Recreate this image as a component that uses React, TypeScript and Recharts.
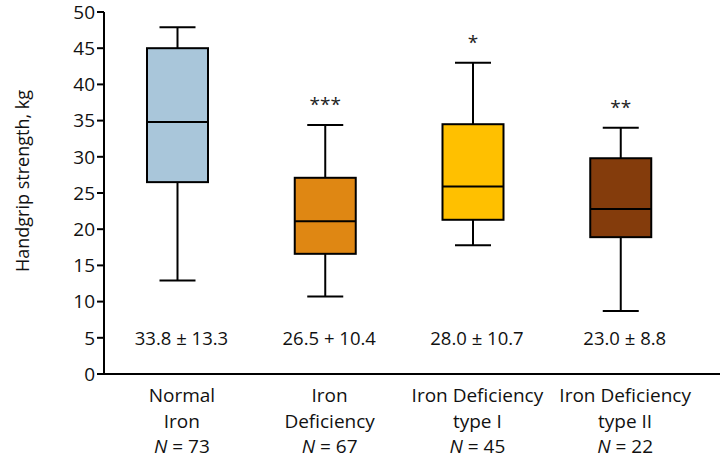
import { ComposedChart, Bar, XAxis, YAxis } from 'recharts';

const groups = ['Normal Iron', 'Iron Deficiency', 'Iron Deficiency type I', 'Iron Deficiency type II'];
const labelLine1 = ['Normal', 'Iron', 'Iron Deficiency', 'Iron Deficiency'];
const labelLine2 = ['Iron', 'Deficiency', 'type I', 'type II'];
const counts = [73, 67, 45, 22];

const whiskerLow = [12.9, 10.7, 17.8, 8.7];
const quartile1 = [26.5, 16.6, 21.3, 18.9];
const medians = [34.8, 21.1, 25.9, 22.8];
const quartile3 = [45.0, 27.1, 34.5, 29.8];
const whiskerHigh = [47.9, 34.4, 43.0, 34.0];

const meanSd = ['33.8 ± 13.3', '26.5 + 10.4', '28.0 ± 10.7', '23.0 ± 8.8'];
const stars = ['', '***', '*', '**'];
const colors = ['#a9c6da', '#df8713', '#ffc000', '#843c0c'];

const yTicks = [0, 5, 10, 15, 20, 25, 30, 35, 40, 45, 50];
const statLevel = 5;

const FONT = '"Open Sans", sans-serif';

const data = groups.map((name, i) => ({
  name,
  base: quartile1[i],
  iqr: quartile3[i] - quartile1[i],
}));

function BoxShape(props: any) {
  const { x, y, width, height, index } = props;
  const q1 = quartile1[index];
  const q3 = quartile3[index];
  const k = height / (q3 - q1);
  const toY = (v: number) => y + height - (v - q1) * k;
  const cx = x + width / 2;
  const cap = 18;
  const yMax = toY(whiskerHigh[index]);
  const yMin = toY(whiskerLow[index]);
  const yMed = toY(medians[index]);
  return (
    <g>
      <line x1={cx} x2={cx} y1={yMax} y2={y} stroke="#000" strokeWidth={2} />
      <line x1={cx} x2={cx} y1={y + height} y2={yMin} stroke="#000" strokeWidth={2} />
      <line x1={cx - cap} x2={cx + cap} y1={yMax} y2={yMax} stroke="#000" strokeWidth={2} />
      <line x1={cx - cap} x2={cx + cap} y1={yMin} y2={yMin} stroke="#000" strokeWidth={2} />
      <rect x={x} y={y} width={width} height={height} fill={colors[index]} stroke="#000" strokeWidth={2} />
      <line x1={x} x2={x + width} y1={yMed} y2={yMed} stroke="#000" strokeWidth={2} />
      {stars[index] && (
        <text x={cx} y={yMax - 14} textAnchor="middle" fontFamily={FONT} fontSize={19} fill="#222">
          {stars[index]}
        </text>
      )}
      <text x={cx + 4} y={toY(statLevel) + 7} textAnchor="middle" fontFamily={FONT} fontSize={18.5} fill="#111">
        {meanSd[index]}
      </text>
    </g>
  );
}

function GroupTick(props: any) {
  const { x, y, index } = props;
  return (
    <text x={x + 4} textAnchor="middle" fontFamily={FONT} fontSize={19} fill="#111">
      <tspan x={x + 4} y={y + 20}>{labelLine1[index]}</tspan>
      <tspan x={x + 4} y={y + 46}>{labelLine2[index]}</tspan>
      <tspan x={x + 4} y={y + 71}>
        <tspan fontStyle="italic">N</tspan> = {counts[index]}
      </tspan>
    </text>
  );
}

function YLabel(props: any) {
  const { viewBox } = props;
  const cx = 22;
  const cy = viewBox.y + viewBox.height / 2 - 12;
  return (
    <text x={cx} y={cy} transform={`rotate(-90 ${cx} ${cy})`} textAnchor="middle" dominantBaseline="central" fontFamily={FONT} fontSize={18} fill="#111">
      Handgrip strength, kg
    </text>
  );
}

export default function App() {
  return (
    <div style={{ width: 728, height: 463, background: '#fff' }}>
      <style>{`body{margin:0}`}</style>
      <ComposedChart width={728} height={463} data={data} margin={{ top: 12, right: 8, bottom: 59, left: 0 }}>
        <XAxis
          dataKey="name"
          height={30}
          tick={<GroupTick />}
          tickLine={false}
          axisLine={{ stroke: '#000', strokeWidth: 2 }}
          padding={{ left: 0, right: 25 }}
          interval={0}
        />
        <YAxis
          width={104}
          domain={[0, 50]}
          ticks={yTicks}
          allowDataOverflow
          tickSize={7}
          tickMargin={2}
          tickLine={{ stroke: '#000', strokeWidth: 2 }}
          axisLine={{ stroke: '#000', strokeWidth: 2 }}
          tick={{ fontFamily: FONT, fontSize: 19, fill: '#111' }}
          label={{ content: <YLabel /> }}
        />
        <Bar dataKey="base" stackId="box" fill="transparent" isAnimationActive={false} barSize={61} />
        <Bar dataKey="iqr" stackId="box" shape={<BoxShape />} isAnimationActive={false} barSize={61} />
      </ComposedChart>
    </div>
  );
}
